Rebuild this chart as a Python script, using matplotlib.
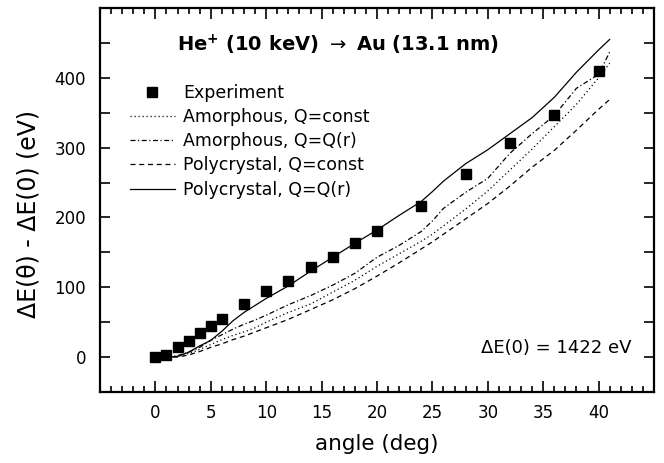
import matplotlib
matplotlib.use("Agg")
import matplotlib.pyplot as plt
from matplotlib.ticker import MultipleLocator, FixedLocator

plt.rcParams['font.family'] = ['DejaVu Sans']
plt.rcParams['mathtext.fontset'] = 'dejavusans'

# Experimental data
exp_angle = [0, 1, 2, 3, 4, 5, 6, 8, 10, 12, 14, 16, 18, 20, 24, 28, 32, 36, 40]
exp_dE = [0, 3, 14, 23, 34, 44, 55, 76, 94, 109, 129, 143, 163, 180, 216, 262, 307, 347, 410]

# Simulations
sim_angle = [0, 1, 2, 3, 4, 5, 6, 7, 8, 9, 10, 12, 14, 16, 18, 20, 22, 24, 25, 26, 28,
             30, 32, 34, 36, 38, 40, 41]
amor_const = [0, 0, 1, 5, 11, 18, 25, 31, 36, 42, 50, 64, 76, 93, 110, 130, 148, 166, 176,
              188, 212, 238, 268, 298, 330, 362, 400, 421]
amor_qr = [0, 0, 2, 7, 14, 24, 32, 40, 47, 53, 60, 75, 88, 103, 120, 143, 160, 180, 195,
           213, 236, 256, 292, 320, 346, 385, 405, 437]
poly_const = [0, 0, 0, 3, 8, 14, 19, 25, 30, 36, 42, 54, 68, 82, 98, 116, 135, 155, 165,
              176, 198, 220, 245, 272, 296, 325, 355, 369]
poly_qr = [0, 0, 1, 7, 16, 24, 37, 52, 64, 74, 84, 102, 123, 143, 163, 182, 203, 223, 237,
           252, 277, 297, 320, 343, 372, 408, 440, 455]

fig = plt.figure(figsize=(6.64, 4.63), dpi=100)
ax = fig.add_axes([100/664, 71/463, 554/664, 384/463])

lw = 0.9
ax.plot(exp_angle, exp_dE, 's', color='black', markersize=6.5, label='Experiment',
        zorder=5)
ax.plot(sim_angle, amor_const, color='black', lw=lw, linestyle=(0, (1, 2.2)),
        label='Amorphous, Q=const')
ax.plot(sim_angle, amor_qr, color='black', lw=lw, linestyle=(0, (4, 2, 1, 2)),
        label='Amorphous, Q=Q(r)')
ax.plot(sim_angle, poly_const, color='black', lw=lw, linestyle=(0, (4, 3)),
        label='Polycrystal, Q=const')
ax.plot(sim_angle, poly_qr, color='black', lw=lw, linestyle='-',
        label='Polycrystal, Q=Q(r)')

ax.set_xlim(-5, 45)
ax.set_ylim(-50, 500)
ax.xaxis.set_major_locator(FixedLocator([0, 5, 10, 15, 20, 25, 30, 35, 40]))
ax.xaxis.set_minor_locator(MultipleLocator(1))
ax.yaxis.set_major_locator(MultipleLocator(100))
ax.yaxis.set_minor_locator(MultipleLocator(50))
ax.set_yticks([0, 100, 200, 300, 400])

ax.tick_params(which='both', direction='in', top=True, right=True, width=1.2,
               labelsize=12, colors='black')
ax.tick_params(axis='x', which='major', length=8, pad=9)
ax.tick_params(axis='x', which='minor', length=4)
ax.tick_params(axis='y', which='major', length=7, pad=10)
ax.tick_params(axis='y', which='minor', length=7)
for s in ax.spines.values():
    s.set_linewidth(1.6)

ax.set_xlabel('angle (deg)', fontsize=15.5, labelpad=8)
ax.set_ylabel('ΔE(θ) - ΔE(0) (eV)', fontsize=17)
ax.yaxis.set_label_coords(-0.108, 0.464)

ax.text(0.43, 0.905, r'He$^{\mathbf{+}}$ (10 keV) $\rightarrow$ Au (13.1 nm)',
        transform=ax.transAxes, ha='center', va='center', fontsize=14,
        fontweight='bold')
ax.text(0.96, 0.115, 'ΔE(0) = 1422 eV', transform=ax.transAxes, ha='right',
        va='center', fontsize=13)

leg = ax.legend(loc='upper left', bbox_to_anchor=(0.054, 0.803), frameon=False,
                fontsize=12.5, handlelength=2.6, handletextpad=0.45,
                labelspacing=0.36, borderpad=0, borderaxespad=0, numpoints=1)

fig.savefig('out.png', dpi=100)
